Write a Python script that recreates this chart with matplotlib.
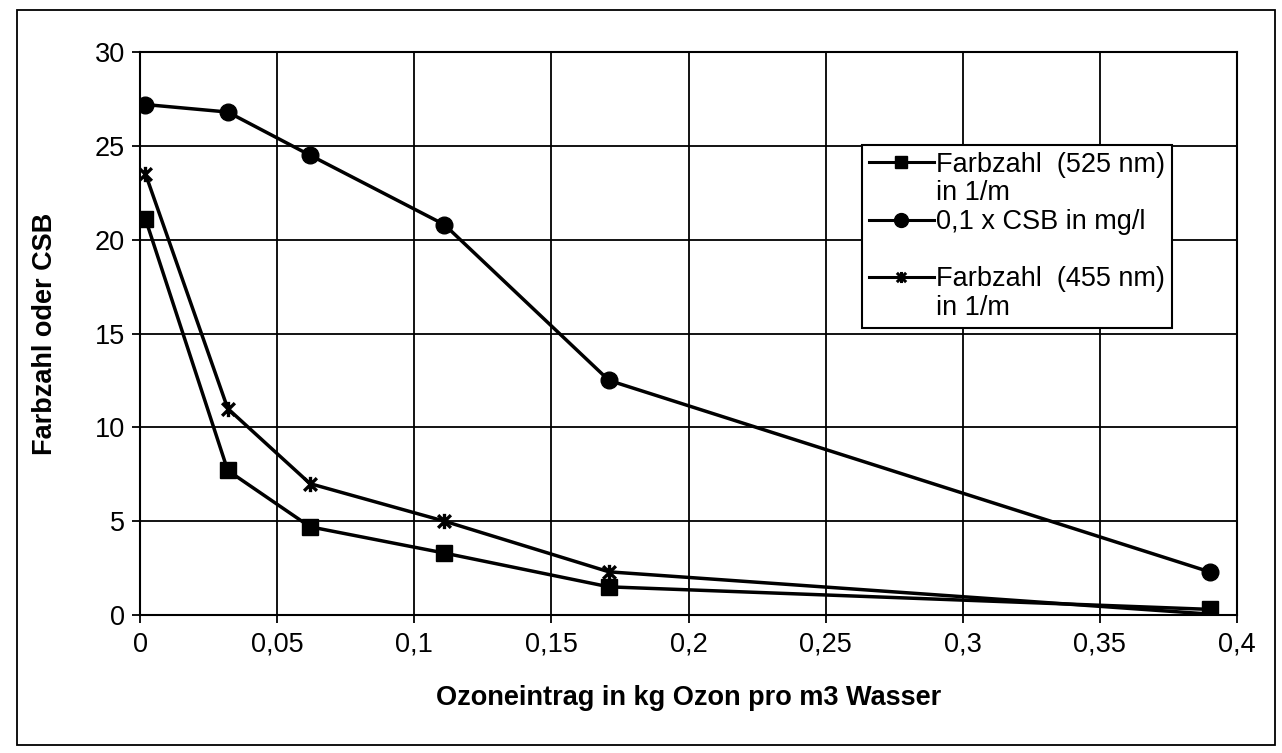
from matplotlib import pyplot as plt
from matplotlib.patches import Rectangle
from matplotlib.lines import Line2D
from matplotlib.path import Path
from matplotlib.ticker import FuncFormatter

ozon = [0.002, 0.032, 0.062, 0.111, 0.171, 0.39]
farb_525 = [21.1, 7.7, 4.7, 3.3, 1.5, 0.3]
csb = [27.2, 26.8, 24.5, 20.8, 12.5, 2.3]
farb_455 = [23.5, 11.0, 7.0, 5.0, 2.3, 0.05]

x_ticks = [0, 0.05, 0.1, 0.15, 0.2, 0.25, 0.3, 0.35, 0.4]
y_ticks = [0, 5, 10, 15, 20, 25, 30]

# Excel style star: x with a vertical bar
star = Path([(-1, -1), (1, 1), (-1, 1), (1, -1), (0, -1.2), (0, 1.2)],
            [Path.MOVETO, Path.LINETO, Path.MOVETO, Path.LINETO, Path.MOVETO, Path.LINETO])

plt.rcParams['font.family'] = ['Liberation Sans', 'DejaVu Sans']
fs = 19.5

fig = plt.figure(figsize=(12.82, 7.53), dpi=100)
ax = fig.add_axes([140 / 1282, 1 - 615 / 753, 1097 / 1282, 563 / 753])

ax.plot(ozon, farb_525, color='black', lw=2.5, marker='s', ms=11, zorder=3)
ax.plot(ozon, csb, color='black', lw=2.5, marker='o', ms=12, zorder=3)
ax.plot(ozon, farb_455, color='black', lw=2.5, marker=star, ms=11, mew=2.4, zorder=3)

ax.set_xlim(0, 0.4)
ax.set_ylim(0, 30)
ax.set_xticks(x_ticks)
ax.set_yticks(y_ticks)
ax.xaxis.set_major_formatter(FuncFormatter(lambda v, p: ('%g' % v).replace('.', ',')))
ax.grid(True, color='black', lw=1.3)
for s in ax.spines.values():
    s.set_linewidth(1.5)
ax.tick_params(labelsize=fs, length=6, width=1.3, color='black')
ax.tick_params(axis='x', pad=6)
ax.tick_params(axis='y', pad=5)

ax.set_xlabel('Ozoneintrag in kg Ozon pro m3 Wasser', fontsize=fs, fontweight='bold', labelpad=20)
ax.set_ylabel('Farbzahl oder CSB', fontsize=fs, fontweight='bold', labelpad=26)

# legend, Excel style: marker on the first text line
handles = [
    Line2D([], [], color='black', lw=2.2, marker='s', ms=9),
    Line2D([], [], ls='none'),
    Line2D([], [], color='black', lw=2.2, marker='o', ms=10),
    Line2D([], [], ls='none'),
    Line2D([], [], color='black', lw=2.2, marker=star, ms=8, mew=2.2),
    Line2D([], [], ls='none'),
]
labels = ['Farbzahl  (525 nm)', 'in 1/m', '0,1 x CSB in mg/l', ' ', 'Farbzahl  (455 nm)', 'in 1/m']
leg = ax.legend(handles, labels, loc='upper left', bbox_to_anchor=(0.658, 0.835),
                fontsize=fs, frameon=True, fancybox=False, edgecolor='black',
                framealpha=1, handlelength=2.4, handletextpad=0.1, labelspacing=0.1,
                borderpad=0.25, borderaxespad=0)
leg.get_frame().set_linewidth(1.5)

# outer chart border
fig.patches.append(Rectangle((17 / 1282, 1 - 745 / 753), 1258 / 1282, 735 / 753,
                             transform=fig.transFigure, fill=False, edgecolor='black', lw=1.3))

fig.savefig('out.png', dpi=100)
